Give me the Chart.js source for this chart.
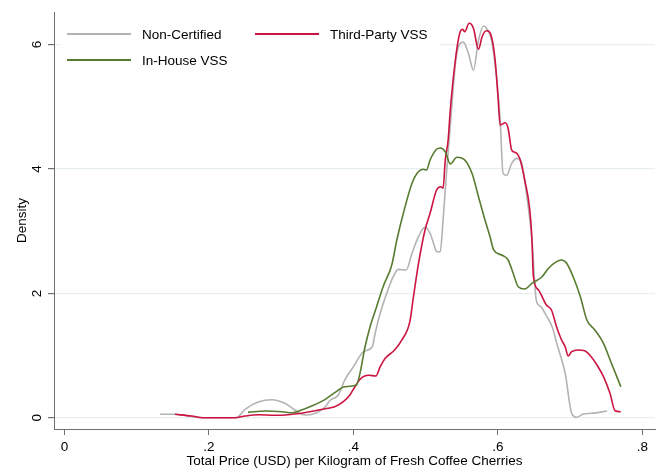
<!DOCTYPE html>
<html>
<head>
<meta charset="utf-8">
<script src="https://cdn.jsdelivr.net/npm/chart.js@4/dist/chart.umd.min.js"></script>
<style>
  html, body { margin: 0; padding: 0; background: #fff; }
  #wrap { width: 664px; height: 469px; }
</style>
</head>
<body>
<div id="wrap"><canvas id="c" width="664" height="469"></canvas></div>
<script>
// ---- Data ----
const seriesNames = ["Non-Certified", "Third-Party VSS", "In-House VSS"];

const nonCertX = [0.132,0.153,0.190,0.238,0.250,0.268,0.287,0.305,0.319,0.328,0.335,0.349,0.361,0.368,0.379,0.388,0.400,0.414,0.426,0.430,0.437,0.446,0.455,0.462,0.473,0.481,0.490,0.499,0.506,0.513,0.515,0.520,0.524,0.528,0.534,0.543,0.552,0.559,0.566,0.573,0.580,0.583,0.591,0.598,0.603,0.607,0.612,0.619,0.626,0.633,0.638,0.647,0.653,0.659,0.665,0.675,0.682,0.693,0.702,0.709,0.718,0.730,0.751];
const nonCertY = [0.056,0.056,0.002,0.002,0.137,0.254,0.291,0.233,0.125,0.056,0.045,0.082,0.178,0.286,0.367,0.608,0.822,1.063,1.143,1.359,1.680,2.002,2.268,2.387,2.376,2.645,2.912,3.063,2.966,2.725,2.670,2.670,3.180,3.823,4.710,5.860,6.040,5.860,5.590,6.070,6.300,6.280,6.070,5.480,4.790,3.930,3.900,4.090,4.170,4.090,3.720,2.860,1.890,1.790,1.680,1.460,1.170,0.715,0.072,0.008,0.061,0.072,0.109];

const thirdX = [0.153,0.176,0.192,0.236,0.250,0.268,0.291,0.315,0.328,0.347,0.361,0.374,0.386,0.395,0.402,0.409,0.421,0.431,0.437,0.444,0.457,0.467,0.478,0.483,0.490,0.499,0.506,0.515,0.521,0.524,0.527,0.531,0.534,0.541,0.547,0.551,0.554,0.560,0.566,0.573,0.578,0.584,0.591,0.596,0.600,0.603,0.610,0.614,0.619,0.625,0.630,0.637,0.644,0.647,0.649,0.656,0.667,0.674,0.681,0.688,0.693,0.697,0.702,0.711,0.720,0.727,0.737,0.746,0.755,0.762,0.770];
const thirdY = [0.056,0.029,0.002,0.002,0.029,0.050,0.040,0.056,0.072,0.114,0.146,0.178,0.259,0.367,0.500,0.619,0.683,0.672,0.822,0.957,1.090,1.251,1.545,1.947,2.484,3.019,3.288,3.662,3.715,3.690,4.145,4.466,4.949,5.752,6.182,6.246,6.207,6.342,6.262,5.924,6.127,6.223,6.127,5.752,5.162,4.707,4.744,4.654,4.305,4.262,4.172,3.823,3.341,2.859,2.268,2.055,1.814,1.733,1.465,1.251,1.143,0.994,1.063,1.090,1.079,1.010,0.849,0.661,0.394,0.114,0.098];

const inHouseX = [0.254,0.278,0.301,0.315,0.328,0.342,0.361,0.374,0.388,0.404,0.409,0.416,0.423,0.432,0.441,0.453,0.460,0.469,0.481,0.488,0.497,0.501,0.506,0.515,0.520,0.527,0.534,0.543,0.553,0.564,0.573,0.582,0.589,0.594,0.605,0.614,0.621,0.628,0.637,0.647,0.661,0.670,0.681,0.688,0.695,0.704,0.714,0.723,0.734,0.746,0.757,0.770];
const inHouseY = [0.088,0.109,0.098,0.082,0.125,0.190,0.297,0.404,0.500,0.527,0.715,1.143,1.465,1.786,2.108,2.457,2.859,3.288,3.770,3.931,3.995,3.984,4.145,4.317,4.338,4.278,4.080,4.188,4.156,3.931,3.555,3.180,2.912,2.698,2.617,2.537,2.323,2.108,2.071,2.162,2.268,2.404,2.510,2.537,2.484,2.268,1.947,1.572,1.412,1.198,0.876,0.500];

const xTicks = [0, 0.2, 0.4, 0.6, 0.8];
const yTicks = [0, 2, 4, 6];

const xTitle = "Total Price (USD) per Kilogram of Fresh Coffee Cherries";
const yTitle = "Density";

// ---- Styles ----
const colors = ["#b3b3b3", "#cc1440", "#587b30"];
const FONT = "'Liberation Sans', Arial, sans-serif";
const axisColor = "#707070";
const gridColor = "#e8eff1";

function pts(xs, ys) { return xs.map((x, i) => ({ x: x, y: ys[i] })); }
function fmt(v) {
  if (v === 0) return "0";
  let s = String(Math.round(v * 10) / 10);
  return s.replace(/^0\./, ".");
}

const legendPlugin = {
  id: 'customLegend',
  afterDatasetsDraw(chart) {
    const ctx = chart.ctx;
    ctx.save();
    ctx.fillStyle = "#fff";
    ctx.fillRect(60, 19, 380, 53);
    const items = [
      { i: 0, lx: 67, ly: 34 },
      { i: 1, lx: 255, ly: 34 },
      { i: 2, lx: 67, ly: 60 }
    ];
    items.forEach(it => {
      ctx.strokeStyle = colors[it.i];
      ctx.lineWidth = 2;
      ctx.beginPath();
      ctx.moveTo(it.lx, it.ly);
      ctx.lineTo(it.lx + 64, it.ly);
      ctx.stroke();
      ctx.fillStyle = "#000";
      ctx.font = "13.5px " + FONT;
      ctx.textAlign = "left";
      ctx.textBaseline = "middle";
      ctx.fillText(seriesNames[it.i], it.lx + 75, it.ly + 1);
    });
    ctx.restore();
  },
  afterDraw(chart) {
    // rotated y tick labels (Stata style), positioned via the chart's y scale
    const ctx = chart.ctx;
    const ys = chart.scales.y;
    ctx.save();
    ctx.fillStyle = "#000";
    ctx.font = "13.5px " + FONT;
    ctx.textAlign = "center";
    ctx.textBaseline = "middle";
    yTicks.forEach(v => {
      const py = ys.getPixelForValue(v);
      ctx.save();
      ctx.translate(37, py);
      ctx.rotate(-Math.PI / 2);
      ctx.fillText(fmt(v), 0, 0);
      ctx.restore();
    });
    ctx.restore();
  }
};

const ds = [
  { label: seriesNames[0], data: pts(nonCertX, nonCertY), borderColor: colors[0], order: 3 },
  { label: seriesNames[1], data: pts(thirdX, thirdY), borderColor: colors[1], order: 2 },
  { label: seriesNames[2], data: pts(inHouseX, inHouseY), borderColor: colors[2], order: 1 }
].map(d => Object.assign(d, {
  borderWidth: 1.6, pointRadius: 0, fill: false, cubicInterpolationMode: 'monotone'
}));

new Chart(document.getElementById('c'), {
  type: 'line',
  data: { datasets: ds },
  plugins: [legendPlugin],
  options: {
    responsive: false,
    animation: false,
    devicePixelRatio: 1,
    layout: { padding: { top: 12, right: 9, left: 0, bottom: 0 } },
    plugins: { legend: { display: false }, tooltip: { enabled: false } },
    scales: {
      x: {
        type: 'linear',
        min: -0.0145,
        max: 0.8173,
        afterFit: s => { s.height = 40; },
        afterBuildTicks: s => { s.ticks = xTicks.map(v => ({ value: v })); },
        border: { display: true, color: axisColor, width: 1 },
        grid: { drawOnChartArea: false, drawTicks: true, tickLength: 6, color: axisColor, tickColor: axisColor },
        ticks: {
          color: "#000", font: { family: FONT, size: 13.5 }, padding: 4,
          maxRotation: 0, minRotation: 0, autoSkip: false,
          callback: v => fmt(v)
        },
        title: {
          display: true, text: xTitle, color: "#000",
          font: { family: FONT, size: 13.5 }, padding: { top: 0, bottom: 0 }
        }
      },
      y: {
        type: 'linear',
        min: -0.18,
        max: 6.524,
        afterFit: s => { s.width = 54; },
        afterBuildTicks: s => { s.ticks = yTicks.map(v => ({ value: v })); },
        border: { display: true, color: axisColor, width: 1 },
        grid: { drawOnChartArea: true, drawTicks: true, tickLength: 6, color: gridColor, tickColor: axisColor, lineWidth: 1.2 },
        ticks: { display: false },
        title: {
          display: true, text: yTitle, color: "#000",
          font: { family: FONT, size: 13.5 }, padding: { top: 14, bottom: 0 }
        }
      }
    }
  }
});
</script>
</body>
</html>
